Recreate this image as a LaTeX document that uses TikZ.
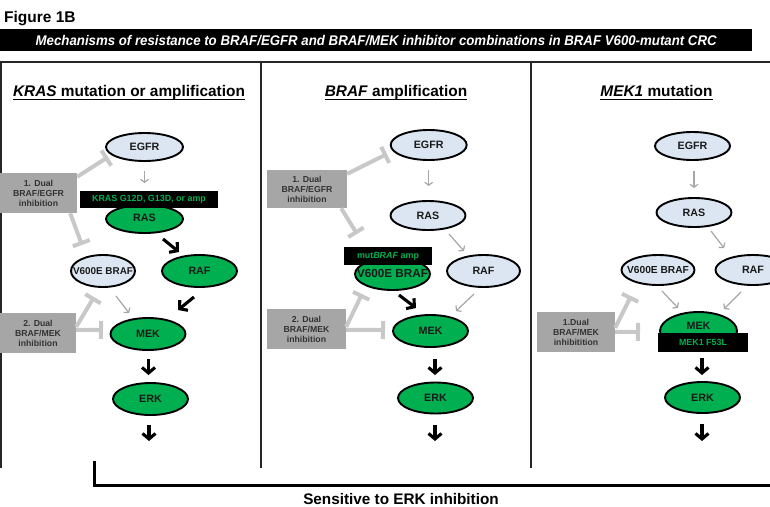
\documentclass[tikz,border=0pt]{standalone}
\usepackage{fontspec}
\setmainfont{Liberation Sans}
\usepackage{graphicx}
\usetikzlibrary{shapes.geometric,arrows.meta,calc}
\definecolor{pblue}{HTML}{DCE6F2}
\definecolor{pgreen}{HTML}{00B050}
\definecolor{boxgray}{HTML}{A6A6A6}
\definecolor{inhgray}{HTML}{C8C8C8}
\definecolor{arrgray}{HTML}{A6A6A6}
\definecolor{txtdark}{HTML}{1A1A1A}
\definecolor{boxtxt}{HTML}{333333}
\tikzset{
  prot/.style 2 args={ellipse, draw=black, line width=1.9pt, minimum width=#1pt, minimum height=#2pt, inner sep=0pt},
  blueprot/.style 2 args={prot={#1}{#2}, fill=pblue},
  greenprot/.style 2 args={prot={#1}{#2}, fill=pgreen},
  ptext/.style={font=\bfseries\fontsize{10.7}{12}\selectfont, text=txtdark, inner sep=0pt},
  gbox/.style 2 args={fill=boxgray, inner sep=0pt, minimum width=#1pt, minimum height=#2pt, align=center, font=\bfseries\fontsize{8.7}{10}\selectfont, text=boxtxt},
  mbar/.style 2 args={fill=black, inner sep=0pt, minimum width=#1pt, minimum height=#2pt, text=pgreen, font=\bfseries\fontsize{8.9}{10}\selectfont},
  fatarrow/.style={line width=3.1pt, draw=black, -{Straight Barb[length=5.5pt,width=13pt]}},
  garrow/.style={line width=1.2pt, draw=arrgray, -{Straight Barb[length=3pt,width=8pt]}},
  inhib/.style={line width=4pt, draw=inhgray, -{Bar[width=18pt]}},
  ptitle/.style={font=\bfseries\fontsize{15.4}{18}\selectfont, inner sep=0pt, anchor=base},
  border/.style={line width=1.5pt, draw=black!85}
}
\begin{document}
\begin{tikzpicture}[x=1pt,y=-1pt]
\useasboundingbox (0,0) rectangle (770,506);
\clip (0,0) rectangle (770,506);

% headings
\node[font=\bfseries\fontsize{15.5}{18}\selectfont, anchor=base west, inner sep=0pt] (fig) at (4,22) {Figure 1B};
\node[fill=black, minimum width=752pt, minimum height=22pt, inner sep=0pt, anchor=north west] (titlebar) at (0,29) {};
\node[text=white, font=\bfseries\itshape\fontsize{14}{16}\selectfont, inner sep=0pt] (titletext) at (titlebar.center) {\resizebox{681pt}{\height}{Mechanisms of resistance to BRAF/EGFR and BRAF/MEK inhibitor combinations in BRAF V600-mutant CRC}};

% panel frame
\draw[border] (0,62) -- (770,62);
\draw[border] (1,62) -- (1,468);
\draw[border] (261,62) -- (261,468);
\draw[border] (531,62) -- (531,468);

% panel titles
\node[ptitle] (t1) at (129,96.5) {\textit{KRAS} mutation or amplification};
\node[ptitle] (t2) at (396,96.5) {\textit{BRAF} amplification};
\node[ptitle] (t3) at (656.5,96.5) {\textit{MEK1} mutation};
\foreach \t in {t1,t2,t3}
  \draw[line width=1.3pt] ([yshift=-3pt]\t.base west) -- ([yshift=-3pt]\t.base east);

% ================= Panel 1 =================
\node[blueprot={77}{28}] (e1) at (144.5,147) {};
\node[ptext] at (e1) {EGFR};
\node[greenprot={77}{28}] (r1) at (144.5,219) {};
\node[ptext] at (144.5,218) {RAS};
\node[mbar={138}{17}] (bar1) at (149,199.5) {KRAS G12D, G13D, or amp};
\node[blueprot={64}{32}] (v1) at (103,271) {};
\node[ptext, font=\bfseries\fontsize{9.9}{12}\selectfont] at (v1) {V600E BRAF};
\node[greenprot={75}{32}] (f1) at (199.5,271) {};
\node[ptext] at (f1) {RAF};
\node[greenprot={75}{32}] (m1) at (148,334) {};
\node[ptext] at (m1) {MEK};
\node[greenprot={75}{32}] (k1) at (150.5,399) {};
\node[ptext] at (k1) {ERK};
\node[gbox={77}{40}] (b1a) at (38.5,193) {1. Dual\\BRAF/EGFR\\inhibition};
\node[gbox={76}{40}] (b1b) at (38,333) {2. Dual\\BRAF/MEK\\inhibition};

\coordinate (g1s) at (144.5,171); \coordinate (g1e) at (144.5,183);
\draw[garrow] (g1s) -- (g1e);
\coordinate (fa1s) at (163,239); \coordinate (fa1e) at (179,252);
\draw[fatarrow] (fa1s) -- (fa1e);
\coordinate (g2s) at (116,296); \coordinate (g2e) at (129,313);
\draw[garrow] (g2s) -- (g2e);
\coordinate (fa2s) at (194,297); \coordinate (fa2e) at (178,310);
\draw[fatarrow] (fa2s) -- (fa2e);
\coordinate (fa3s) at (148.5,359); \coordinate (fa3e) at (148.5,375);
\draw[fatarrow] (fa3s) -- (fa3e);
\coordinate (fa4s) at (149,425); \coordinate (fa4e) at (149,441);
\draw[fatarrow] (fa4s) -- (fa4e);

\coordinate (i1e) at (108,157);
\draw[inhib] ([yshift=-4pt]b1a.north east) -- (i1e);
\coordinate (i2e) at (82,245);
\draw[inhib] ([xshift=-7pt]b1a.south east) -- (i2e);
\coordinate (i3e) at (94,297);
\draw[inhib] ([yshift=-14pt]b1b.north east) -- (i3e);
\coordinate (i4e) at (103,330);
\draw[inhib] ([yshift=-17pt]b1b.north east) -- (i4e);

% ================= Panel 2 =================
\node[blueprot={76}{30}] (e2) at (428.7,145) {};
\node[ptext] at (e2) {EGFR};
\node[blueprot={75}{29}] (r2) at (428,215.5) {};
\node[ptext] at (r2) {RAS};
\node[blueprot={73}{32}] (f2) at (483.5,271) {};
\node[ptext] at (f2) {RAF};
\node[greenprot={75}{32}] (v2) at (392.5,274) {};
\node[ptext, font=\bfseries\fontsize{11.7}{13}\selectfont] at (392.5,273) {V600E BRAF};
\node[mbar={88}{18}] (bar2) at (388,256) {mut\textit{BRAF} amp};
\node[greenprot={75}{32}] (m2) at (430.5,331) {};
\node[ptext] at (m2) {MEK};
\node[greenprot={75}{31}] (k2) at (435.5,398) {};
\node[ptext] at (k2) {ERK};
\node[gbox={80}{38}] (b2a) at (307,189) {1. Dual\\BRAF/EGFR\\inhibition};
\node[gbox={79}{40}] (b2b) at (306.5,329) {2. Dual\\BRAF/MEK\\inhibition};

\coordinate (g3s) at (428.7,170); \coordinate (g3e) at (428.7,186);
\draw[garrow] (g3s) -- (g3e);
\coordinate (g4s) at (449,234); \coordinate (g4e) at (464,251);
\draw[garrow] (g4s) -- (g4e);
\coordinate (fa5s) at (399,295); \coordinate (fa5e) at (416,308);
\draw[fatarrow] (fa5s) -- (fa5e);
\coordinate (g5s) at (474,294); \coordinate (g5e) at (456,311);
\draw[garrow] (g5s) -- (g5e);
\coordinate (fa6s) at (435,359); \coordinate (fa6e) at (435,375);
\draw[fatarrow] (fa6s) -- (fa6e);
\coordinate (fa7s) at (435,425); \coordinate (fa7e) at (435,441);
\draw[fatarrow] (fa7s) -- (fa7e);

\coordinate (i5e) at (387,154);
\draw[inhib] ([yshift=-4pt]b2a.north east) -- (i5e);
\coordinate (i6e) at (357,234);
\draw[inhib] ([xshift=-6pt]b2a.south east) -- (i6e);
\coordinate (i7e) at (362,294);
\draw[inhib] ([yshift=-18pt]b2b.north east) -- (i7e);
\coordinate (i8e) at (385,330);
\draw[inhib] ([yshift=-21pt]b2b.north east) -- (i8e);

% ================= Panel 3 =================
\node[blueprot={75}{28}] (e3) at (692.5,146) {};
\node[ptext] at (e3) {EGFR};
\node[blueprot={75}{29}] (r3) at (694,212.5) {};
\node[ptext] at (r3) {RAS};
\node[blueprot={73}{30}] (v3) at (658,270) {};
\node[ptext, font=\bfseries\fontsize{10.2}{12}\selectfont] at (v3) {V600E BRAF};
\node[blueprot={75}{30}] (f3) at (753,270) {};
\node[ptext] at (f3) {RAF};
\node[greenprot={77}{38}] (m3) at (698.5,331) {};
\node[ptext] at (698.5,326) {MEK};
\node[mbar={90}{19}] (bar3) at (703,342.5) {MEK1 F53L};
\node[greenprot={75}{31}] (k3) at (702.5,397.5) {};
\node[ptext] at (k3) {ERK};
\node[gbox={78}{40}] (b3) at (576,332) {1.Dual\\BRAF/MEK\\inhibitition};

\coordinate (g6s) at (694,171); \coordinate (g6e) at (694,188);
\draw[garrow] (g6s) -- (g6e);
\coordinate (g7s) at (711,231); \coordinate (g7e) at (724,248);
\draw[garrow] (g7s) -- (g7e);
\coordinate (g8s) at (662,291); \coordinate (g8e) at (678,308);
\draw[garrow] (g8s) -- (g8e);
\coordinate (g9s) at (741,292); \coordinate (g9e) at (724,309);
\draw[garrow] (g9s) -- (g9e);
\coordinate (fa8s) at (702,358); \coordinate (fa8e) at (702,375);
\draw[fatarrow] (fa8s) -- (fa8e);
\coordinate (fa9s) at (702,424); \coordinate (fa9e) at (702,441);
\draw[fatarrow] (fa9s) -- (fa9e);

\coordinate (i9e) at (631,296);
\draw[inhib] ([yshift=-16pt]b3.north east) -- (i9e);
\coordinate (i10e) at (640,332);
\draw[inhib] ([yshift=-20pt]b3.north east) -- (i10e);

% bottom bracket and label
\coordinate (brk1) at (94,461);
\coordinate (brk2) at (94,485.5);
\coordinate (brk3) at (770,485.5);
\draw[line width=3pt] (brk1) -- (brk2) -- (brk3);
\node[font=\bfseries\fontsize{15.3}{18}\selectfont, inner sep=0pt, anchor=base] (sens) at (401,504) {Sensitive to ERK inhibition};
\end{tikzpicture}
\end{document}
